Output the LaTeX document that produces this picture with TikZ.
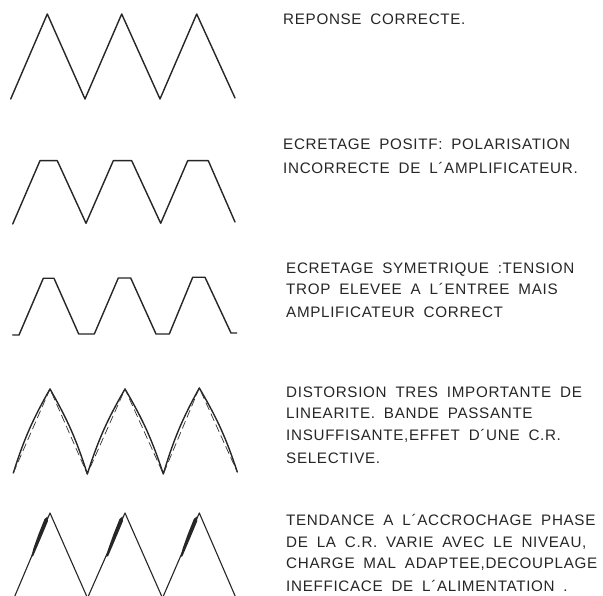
\documentclass[tikz,border=0pt]{standalone}
\usepackage{fontspec}
\setmainfont{Liberation Sans}[LetterSpace=4.5,WordSpace=1.8]
\begin{document}
\begin{tikzpicture}[x=1pt,y=-1pt,
  wave/.style={line width=1.4pt, line join=round, line cap=round, black!85},
  lbl/.style={anchor=base west, inner sep=0pt, font=\fontsize{15.2}{18}\selectfont, text=black!85}]
\fill[white] (0,0) rectangle (603,596);
\clip (0,0) rectangle (603,596);

% 1: correct response
\draw[wave] (10.7,99) -- (47.3,14) -- (85,99) -- (121.7,14) -- (160,99) -- (196.7,14) -- (235,98);

% 2: positive clipping
\draw[wave] (12.7,224) -- (40,160.7) -- (57.3,160.7) -- (86,223.3) -- (113.3,160.7) -- (131.7,160.7)
  -- (160.7,223.3) -- (187.7,160.7) -- (208.3,160.7) -- (235,222);

% 3: symmetric clipping
\draw[wave] (12.7,335) -- (19,335) -- (43.3,278.3) -- (54,278.3) -- (78.7,334) -- (94.3,334)
  -- (118.3,278) -- (130.7,278) -- (156,334) -- (169.3,334) -- (192.7,277.3) -- (205,277.3)
  -- (231,333) -- (236.7,333);

% 4: linearity distortion
\draw[wave] (13.3,473) to[bend left=6] (50,389) to[bend left=6] (87.3,474)
  to[bend left=6] (125,389) to[bend left=6] (163.3,474)
  to[bend left=6] (199.3,388) to[bend left=6] (237.3,472);
\draw[line width=0.7pt, black!80, dash pattern=on 8pt off 4pt]
  (13.3,473) -- (50,389) -- (87.3,474) -- (125,389) -- (163.3,474) -- (199.3,388) -- (237.3,472);

% 5: oscillation tendency
\draw[wave, line width=1.1pt] (14,598) -- (50,513) -- (87.5,598) -- (125,513) -- (162.5,598) -- (199.3,513) -- (236,598);
\foreach \dx in {0,75,149.3}{
  \fill[black!85, xshift=\dx pt] (31.2,557) -- (33.5,548) -- (38.5,534) -- (44.5,519) -- (47.5,516.5)
     -- (48,521) -- (43,533) -- (37.5,546) -- (33.2,556) -- cycle;
}

% labels
\node[lbl] (t1) at (283,24.3) {REPONSE CORRECTE.};

\node[lbl] (t2a) at (283,150) {ECRETAGE POSITF: POLARISATION};
\node[lbl] (t2b) at (283,174) {INCORRECTE DE L´AMPLIFICATEUR.};

\node[lbl] (t3a) at (286,273.3) {ECRETAGE SYMETRIQUE :TENSION};
\node[lbl] (t3b) at (286,295) {TROP ELEVEE A L´ENTREE MAIS};
\node[lbl] (t3c) at (286,317.3) {AMPLIFICATEUR CORRECT};

\node[lbl] (t4a) at (286,397) {DISTORSION TRES IMPORTANTE DE};
\node[lbl] (t4b) at (286,418.5) {LINEARITE. BANDE PASSANTE};
\node[lbl] (t4c) at (286,440.5) {INSUFFISANTE,EFFET D´UNE C.R.};
\node[lbl] (t4d) at (286,463) {SELECTIVE.};

\node[lbl] (t5a) at (286,525) {TENDANCE A L´ACCROCHAGE PHASE};
\node[lbl] (t5b) at (286,547) {DE LA C.R. VARIE AVEC LE NIVEAU,};
\node[lbl] (t5c) at (286,568.5) {CHARGE MAL ADAPTEE,DECOUPLAGE};
\node[lbl] (t5d) at (286,591.5) {INEFFICACE DE L´ALIMENTATION .};
\end{tikzpicture}
\end{document}
